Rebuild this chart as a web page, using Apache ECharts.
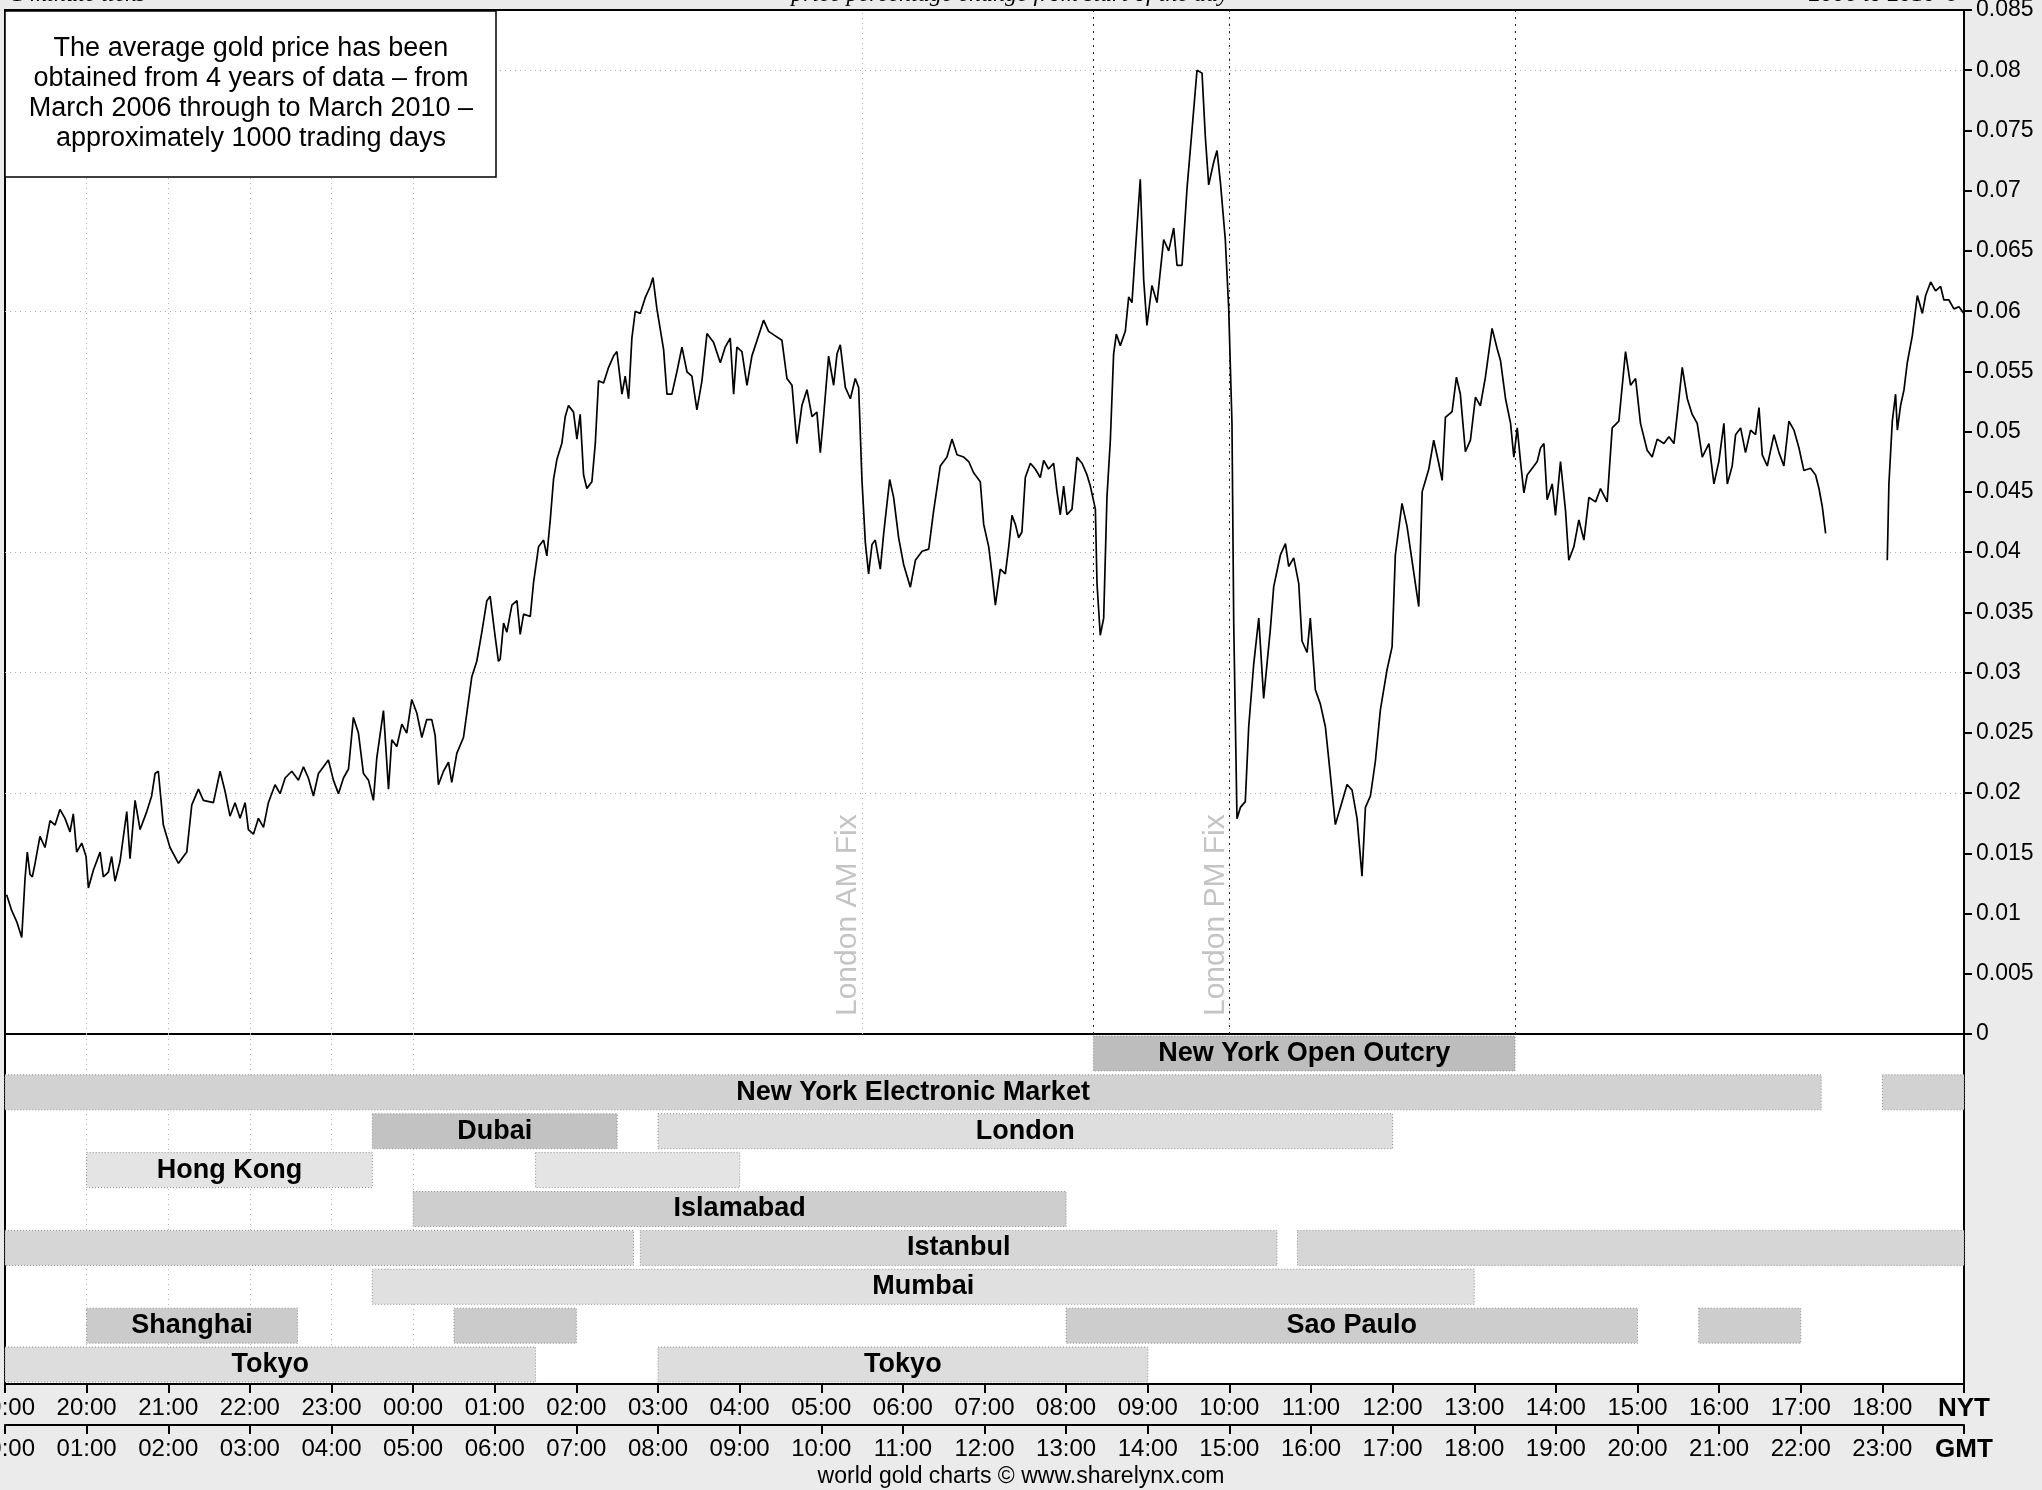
<!DOCTYPE html>
<html>
<head>
<meta charset="utf-8">
<title>Average gold price change through the trading day</title>
<script src="https://cdn.jsdelivr.net/npm/echarts@6/dist/echarts.min.js"></script>
<style>
  html, body { margin: 0; padding: 0; background: #ebebeb; }
  #chart { width: 2042px; height: 1490px; }
</style>
</head>
<body>
<div id="chart"></div>
<script>
  // average % price change from the start of the day, [minutes after 00:00 GMT, value]
  var priceNight = [[1.2,0.01156],[4.9,0.01026],[8.6,0.00933],[12.3,0.00802],[14.7,0.01287],[16.4,0.0151],[18.4,0.01324],[20.1,0.01305],[22.1,0.01417],[25.7,0.01641],[29.4,0.01548],[33.1,0.01771],[36.8,0.01734],[40.4,0.01864],[44.1,0.0179],[47.8,0.01678],[50.2,0.01827],[52.7,0.0151],[56.4,0.01585],[59.6,0.01473],[61.3,0.01212],[65.0,0.01361],[69.9,0.0151],[72.3,0.01305],[76.0,0.01343],[78.4,0.01473],[80.9,0.01268],[84.6,0.01436],[89.5,0.01846],[91.9,0.01455],[95.6,0.01939],[99.3,0.01697],[104.2,0.01846],[107.8,0.01976],[110.3,0.02162],[112.7,0.02181],[116.4,0.01734],[121.3,0.01548],[127.5,0.01417],[133.6,0.0151],[137.3,0.01902],[142.2,0.02032],[145.8,0.01939],[153.2,0.0192],[158.1,0.02181],[161.8,0.02013],[165.4,0.01808],[169.1,0.0192],[172.8,0.0179],[176.5,0.0192],[178.9,0.01697],[182.6,0.01659],[186.3,0.0179],[190.0,0.01715],[193.6,0.0192],[198.5,0.02069],[202.2,0.01995],[205.9,0.02125],[210.8,0.02181],[215.7,0.02107],[219.4,0.02218],[223.0,0.02125],[226.7,0.01976],[230.4,0.02162],[234.1,0.02218],[237.7,0.02274],[241.4,0.02107],[245.1,0.01995],[248.8,0.02125],[252.5,0.022],[256.1,0.02628],[259.8,0.02498],[263.5,0.02162],[267.2,0.02107],[270.8,0.01939],[273.3,0.02293],[278.2,0.02684],[281.9,0.02032],[284.3,0.02442],[288.0,0.02386],[291.7,0.02572],[295.3,0.02498],[299.0,0.02777],[302.7,0.02665],[306.4,0.02461],[310.0,0.0261],[313.7,0.0261],[316.2,0.02479],[318.6,0.02069],[322.3,0.02181],[326.0,0.02256],[328.4,0.02088],[332.1,0.0233],[337.0,0.02461],[339.5,0.02665],[343.1,0.02963],[346.8,0.03094],[350.5,0.03336],[354.2,0.03597],[356.6,0.03634],[360.3,0.03299],[362.7,0.03094]];
  var priceMorning = [[364.0,0.03112],[366.5,0.03411],[368.9,0.03336],[372.6,0.0356],[376.3,0.03597],[378.7,0.03317],[381.2,0.03485],[386.1,0.03466],[388.5,0.03746],[392.2,0.04044],[395.9,0.041],[398.3,0.03969],[400.8,0.04268],[403.2,0.04603],[405.7,0.0477],[409.3,0.04901],[411.8,0.05124],[414.2,0.05218],[417.9,0.05162],[420.4,0.04938],[422.8,0.05143],[425.3,0.0464],[427.7,0.04528],[431.4,0.04584],[433.9,0.04901],[436.3,0.05422],[440.0,0.05404],[443.7,0.05534],[447.3,0.05627],[449.8,0.05665],[453.5,0.05311],[455.9,0.0546],[458.4,0.05273],[460.8,0.05776],[463.3,0.06],[466.9,0.05981],[470.6,0.06112],[474.3,0.06205],[476.3,0.06279],[479.2,0.06019],[484.1,0.05683],[486.6,0.05311],[490.2,0.05311],[493.9,0.05497],[497.6,0.05702],[501.3,0.05497],[504.9,0.0546],[508.6,0.0518],[512.3,0.05422],[516.0,0.05814],[520.9,0.05739],[525.8,0.05572],[529.4,0.05702],[533.1,0.05776],[535.6,0.05311],[538.0,0.05702],[541.7,0.05665],[545.4,0.05385],[549.0,0.05627],[557.6,0.05925],[561.3,0.05832],[566.2,0.05795],[571.1,0.05758],[574.8,0.05441],[578.5,0.05385],[582.1,0.04901],[585.8,0.05218],[589.5,0.05348],[593.2,0.05124],[596.8,0.05162],[599.3,0.04826],[601.7,0.05124],[605.4,0.05627],[609.1,0.05385],[611.6,0.05646],[614.0,0.05721],[617.7,0.05367],[621.4,0.05273],[625.0,0.05441],[627.5,0.05367],[629.9,0.04603],[632.4,0.04081],[634.8,0.0382],[637.3,0.04063],[639.7,0.041],[643.4,0.03858],[645.9,0.04156],[650.3,0.04603],[653.2,0.04454],[656.9,0.04119],[660.6,0.03895],[665.5,0.03709],[669.2,0.03932],[674.1,0.04007],[679.0,0.04025],[682.6,0.04342],[687.5,0.04715],[692.4,0.04789],[696.1,0.04938],[699.8,0.04808],[704.7,0.04789],[708.4,0.04752],[712.0,0.04659],[716.9,0.04584],[719.4,0.0423],[723.1,0.04044],[725.5,0.0382],[728.0,0.0356],[731.6,0.03858],[735.3,0.0382],[737.8,0.04044],[740.2,0.04305],[742.7,0.0423],[745.1,0.04119]];
  var priceAfternoon = [[747.5,0.04167],[750.0,0.04619],[753.7,0.04738],[757.3,0.0469],[761.0,0.04619],[763.5,0.04762],[767.1,0.0469],[770.8,0.04738],[773.3,0.045],[775.7,0.0431],[778.2,0.04548],[780.6,0.0431],[784.3,0.04357],[788.0,0.04786],[791.7,0.04738],[795.3,0.04643],[797.8,0.04548],[801.5,0.04357],[802.7,0.03738],[805.1,0.0331],[807.6,0.03452],[810.0,0.04452],[812.5,0.04929],[814.9,0.05643],[816.9,0.0581],[819.8,0.05714],[823.5,0.05833],[826.0,0.06119],[828.4,0.06071],[830.9,0.065],[834.5,0.07095],[837.0,0.06262],[839.4,0.05881],[843.1,0.06214],[846.8,0.06071],[851.7,0.06595],[855.4,0.065],[859.1,0.0669],[861.5,0.06381],[865.2,0.06381],[868.9,0.07024],[872.5,0.075],[876.2,0.08],[879.9,0.07976],[882.3,0.07452],[884.8,0.07048],[888.5,0.07238],[890.9,0.07333],[893.4,0.07071],[897.0,0.06595],[899.5,0.06024],[901.9,0.05071],[903.2,0.03405],[905.6,0.01786],[908.1,0.01881],[911.7,0.01929],[914.2,0.02548],[917.9,0.03071],[921.6,0.03452],[925.2,0.02786],[930.1,0.03357],[932.6,0.03714],[937.5,0.03976],[941.2,0.04071],[943.6,0.03881],[947.3,0.03952],[951.0,0.03738],[953.4,0.03262],[957.1,0.03167],[959.5,0.03452],[963.2,0.02857],[966.9,0.02738],[970.6,0.02548],[974.3,0.02143],[977.9,0.01738],[981.6,0.01881],[986.5,0.02071],[990.2,0.02024],[993.9,0.01786],[997.5,0.0131],[1000.0,0.01881],[1003.7,0.01976],[1007.3,0.02262],[1011.0,0.0269],[1015.9,0.03024],[1019.6,0.03214],[1022.0,0.03976],[1026.9,0.04405],[1030.6,0.04214],[1035.5,0.03833],[1039.2,0.03548],[1041.7,0.045],[1046.6,0.0469],[1050.2,0.04929],[1053.9,0.04738],[1056.4,0.04595],[1058.8,0.05119],[1063.7,0.05167],[1066.9,0.05452],[1069.8,0.0531],[1073.5,0.04833],[1077.2,0.04929],[1080.9,0.05286],[1084.5,0.05214],[1088.2,0.05452],[1093.1,0.05857],[1096.8,0.0569]];
  var priceEvening = [[1099.3,0.0559],[1103.0,0.05273],[1106.7,0.05069],[1109.1,0.04789],[1111.6,0.05031],[1114.0,0.04752],[1116.5,0.04491],[1118.9,0.0464],[1122.6,0.04696],[1126.3,0.04752],[1128.7,0.04864],[1131.2,0.04901],[1133.6,0.04435],[1137.3,0.04566],[1139.7,0.04305],[1143.4,0.04752],[1147.1,0.04342],[1149.5,0.03932],[1153.2,0.04044],[1156.9,0.04268],[1160.6,0.041],[1164.3,0.04454],[1169.2,0.04417],[1172.8,0.04528],[1177.7,0.04417],[1181.4,0.05031],[1186.3,0.05087],[1191.2,0.05665],[1194.9,0.05385],[1198.6,0.05441],[1202.2,0.05069],[1207.1,0.04845],[1210.8,0.04789],[1214.5,0.04938],[1219.4,0.04901],[1223.1,0.04957],[1226.8,0.04901],[1229.2,0.05143],[1232.9,0.05534],[1236.6,0.05273],[1240.2,0.05143],[1243.9,0.05069],[1247.6,0.04789],[1252.5,0.04901],[1256.2,0.04566],[1259.8,0.04752],[1263.5,0.05069],[1266.0,0.04566],[1269.6,0.04715],[1272.1,0.04975],[1275.8,0.05031],[1279.4,0.04826],[1283.1,0.05013],[1286.8,0.04975],[1289.3,0.05199],[1291.7,0.04808],[1295.4,0.04715],[1300.3,0.04975],[1304.0,0.04826],[1307.6,0.04715],[1311.3,0.05087],[1315.0,0.05013],[1318.7,0.04864],[1322.3,0.04677],[1327.2,0.04696],[1330.9,0.0464],[1333.4,0.04528],[1335.8,0.04379],[1338.3,0.04156]];
  var priceLate = [[1383.6,0.03932],[1384.8,0.04566],[1387.3,0.05087],[1389.7,0.05311],[1391.0,0.05013],[1393.4,0.05218],[1395.9,0.05348],[1398.3,0.05572],[1402.0,0.05795],[1405.7,0.0613],[1409.4,0.05981],[1411.8,0.0613],[1415.5,0.06242],[1419.1,0.06168],[1422.8,0.06205],[1425.2,0.06093],[1428.9,0.06093],[1432.6,0.06019],[1436.3,0.06037],[1439.9,0.05981]];

  // tick labels, one per hour from 00:00 GMT
  var nytLabels = ['19:00','20:00','21:00','22:00','23:00','00:00','01:00','02:00','03:00','04:00','05:00','06:00','07:00','08:00','09:00','10:00','11:00','12:00','13:00','14:00','15:00','16:00','17:00','18:00','NYT'];
  var gmtLabels = ['00:00','01:00','02:00','03:00','04:00','05:00','06:00','07:00','08:00','09:00','10:00','11:00','12:00','13:00','14:00','15:00','16:00','17:00','18:00','19:00','20:00','21:00','22:00','23:00','GMT'];

  // dotted reference levels and hours
  var gridLevels = [0.02, 0.025, 0.04, 0.055, 0.06, 0.08];
  var gridHours = [60, 120, 180, 240, 300];
  var fixEvents = [['London AM Fix', 630], ['London PM Fix', 900]];
  var outcryEvents = [800, 1110];

  // market sessions: [row, market, start min GMT, end min GMT, labelled]
  var sessionRows = ['New York Open Outcry', 'New York Electronic Market', 'Dubai / London', 'Hong Kong', 'Islamabad', 'Istanbul', 'Mumbai', 'Shanghai / Sao Paulo', 'Tokyo'];
  var sessionSpans = [
    [0, 'New York Open Outcry', 800, 1110, true],
    [1, 'New York Electronic Market', 0, 1335, true],
    [1, 'New York Electronic Market', 1380, 1440, false],
    [2, 'Dubai', 270, 450, true],
    [2, 'London', 480, 1020, true],
    [3, 'Hong Kong', 60, 270, true],
    [3, 'Hong Kong', 390, 540, false],
    [4, 'Islamabad', 300, 780, true],
    [5, 'Istanbul', 0, 462, false],
    [5, 'Istanbul', 467, 935, true],
    [5, 'Istanbul', 950, 1440, false],
    [6, 'Mumbai', 270, 1080, true],
    [7, 'Shanghai', 60, 215, true],
    [7, 'Shanghai', 330, 420, false],
    [7, 'Sao Paulo', 780, 1200, true],
    [7, 'Sao Paulo', 1245, 1320, false],
    [8, 'Tokyo', 0, 390, true],
    [8, 'Tokyo', 480, 840, true]
  ];

  var shade = {
    'New York Open Outcry': '#bdbdbd',
    'New York Electronic Market': '#d2d2d2',
    'Dubai': '#c2c2c2',
    'London': '#dedede',
    'Hong Kong': '#e4e4e4',
    'Islamabad': '#cecece',
    'Istanbul': '#d6d6d6',
    'Mumbai': '#e0e0e0',
    'Shanghai': '#cbcbcb',
    'Sao Paulo': '#cdcdcd',
    'Tokyo': '#dddddd'
  };

  var font = '"Liberation Sans", Arial, sans-serif';
  var priceData = [].concat(priceNight, priceMorning, priceAfternoon, priceEvening, [[1360, null]], priceLate);

  var gridMarks = [];
  gridLevels.forEach(function (v) { gridMarks.push({ yAxis: v }); });
  gridHours.forEach(function (h) { gridMarks.push({ xAxis: h }); });
  fixEvents.forEach(function (f) { gridMarks.push({ xAxis: f[1], lineStyle: { color: '#b4b4b4' } }); });
  outcryEvents.forEach(function (t) { gridMarks.push({ xAxis: t, lineStyle: { color: '#222', type: [2, 5] } }); });
  gridMarks.push({ xAxis: 900, lineStyle: { color: '#222', type: [2, 5] } });

  function hourLabel(list) {
    return function (v) {
      var i = Math.round(v / 60);
      return i === 24 ? '{b|' + list[i] + '}' : list[i];
    };
  }

  var xBase = { type: 'value', min: 0, max: 1440, interval: 60, splitLine: { show: false } };

  var option = {
    animation: false,
    backgroundColor: '#ebebeb',
    grid: [
      { left: 5, right: 78, top: 10, height: 1024, show: true, backgroundColor: '#fff', borderColor: '#000', borderWidth: 2, containLabel: false, outerBoundsMode: 'none' },
      { left: 5, right: 78, top: 1034, height: 350, show: true, backgroundColor: '#fff', borderColor: '#000', borderWidth: 2, containLabel: false, outerBoundsMode: 'none' }
    ],
    xAxis: [
      Object.assign({}, xBase, { gridIndex: 0, show: false, axisLine: { onZero: false } }),
      Object.assign({}, xBase, {
        gridIndex: 1, position: 'bottom',
        axisLine: { show: true, onZero: false, lineStyle: { color: '#000', width: 2 } },
        axisTick: { show: true, length: 9, lineStyle: { color: '#000', width: 2 } },
        axisLabel: { color: '#000', fontFamily: font, fontSize: 24, margin: 12, formatter: hourLabel(nytLabels),
          rich: { b: { fontFamily: font, fontSize: 26, fontWeight: 'bold', color: '#000' } } }
      }),
      Object.assign({}, xBase, {
        gridIndex: 1, position: 'bottom', offset: 41,
        axisLine: { show: true, onZero: false, lineStyle: { color: '#000', width: 2 } },
        axisTick: { show: true, length: 9, lineStyle: { color: '#000', width: 2 } },
        axisLabel: { color: '#000', fontFamily: font, fontSize: 24, margin: 12, formatter: hourLabel(gmtLabels),
          rich: { b: { fontFamily: font, fontSize: 26, fontWeight: 'bold', color: '#000' } } }
      })
    ],
    yAxis: [
      {
        gridIndex: 0, type: 'value', position: 'right', min: 0, max: 0.085, interval: 0.005,
        axisLine: { show: true, onZero: false, lineStyle: { color: '#000', width: 2 } },
        axisTick: { show: true, length: 8, lineStyle: { color: '#000', width: 2 } },
        axisLabel: { color: '#000', fontFamily: font, fontSize: 23, margin: 12,
          formatter: function (v) { return String(+v.toFixed(3)); } },
        splitLine: { show: false }
      },
      { gridIndex: 1, type: 'category', inverse: true, data: sessionRows, show: false, axisLine: { onZero: false } }
    ],
    series: [
      {
        type: 'custom', xAxisIndex: 1, yAxisIndex: 1, z: 2, silent: true,
        data: sessionSpans.map(function (s) { return [s[2], s[0], s[3]]; }),
        encode: { x: [0, 2], y: 1 },
        renderItem: function (params, api) {
          var s = sessionSpans[params.dataIndex];
          var a = api.coord([s[2], s[0]]);
          var b = api.coord([s[3], s[0]]);
          var h = api.size([0, 1])[1] * 0.9;
          var el = {
            type: 'rect',
            shape: { x: a[0], y: a[1] - h / 2, width: b[0] - a[0], height: h },
            style: { fill: shade[s[1]], stroke: '#8c8c8c', lineWidth: 1, lineDash: [1, 2] }
          };
          if (s[4]) {
            el.textContent = { style: { text: s[1], font: 'bold 27px ' + font, fill: '#000' } };
            el.textConfig = { position: 'inside' };
          }
          return el;
        },
        markLine: {
          silent: true, symbol: 'none', z: 1, label: { show: false },
          lineStyle: { color: '#b4b4b4', type: [1, 4], width: 1 },
          data: gridHours.map(function (h) { return { xAxis: h }; })
        }
      },
      {
        type: 'line', xAxisIndex: 0, yAxisIndex: 0, z: 3, silent: true,
        data: priceData, showSymbol: false, connectNulls: false,
        lineStyle: { color: '#000', width: 1.7 },
        markLine: {
          silent: true, symbol: 'none', z: 1, label: { show: false },
          lineStyle: { color: '#b0b0b0', type: [1, 4], width: 1 },
          data: gridMarks
        }
      }
    ],
    graphic: [
      { type: 'rect', z: 10, shape: { x: 5, y: 11, width: 491, height: 166 }, style: { fill: '#fff', stroke: '#000', lineWidth: 1.5 } },
      { type: 'text', z: 11, x: 251, y: 94, style: {
          text: 'The average gold price has been\nobtained from 4 years of data \u2013 from\nMarch 2006 through to March 2010 \u2013\napproximately 1000 trading days',
          font: '27px ' + font, fill: '#000', align: 'center', verticalAlign: 'middle', lineHeight: 30 } },
      { type: 'text', z: 11, x: 12, y: 7, style: { text: '1 minute ticks', font: 'italic 24px "Liberation Serif", serif', fill: '#000', align: 'left', verticalAlign: 'bottom' } },
      { type: 'text', z: 11, x: 1010, y: 7, style: { text: 'price percentage change from start of the day', font: 'italic 24px "Liberation Serif", serif', fill: '#000', align: 'center', verticalAlign: 'bottom' } },
      { type: 'text', z: 11, x: 1960, y: 7, style: { text: '2006 to 2010 \u00a9', font: 'italic 24px "Liberation Serif", serif', fill: '#000', align: 'right', verticalAlign: 'bottom' } },
      { type: 'text', z: 11, x: 1021, y: 1477, style: { text: 'world gold charts \u00a9 www.sharelynx.com', font: '23px ' + font, fill: '#000', align: 'center', verticalAlign: 'middle' } }
    ]
  };

  var chart = echarts.init(document.getElementById('chart'), null, { renderer: 'canvas' });
  chart.setOption(option);

  // rotated fix labels placed just left of their lines
  var zeroY = chart.convertToPixel({ yAxisIndex: 0 }, 0);
  var fixGraphics = fixEvents.map(function (f) {
    var px = chart.convertToPixel({ xAxisIndex: 0 }, f[1]);
    return { type: 'text', z: 11, x: px - 14, y: zeroY - 18, rotation: Math.PI / 2,
      style: { text: f[0], font: '30px ' + font, fill: '#c4c4c4', align: 'left', verticalAlign: 'middle' } };
  });
  chart.setOption({ graphic: option.graphic.concat(fixGraphics) });
</script>
</body>
</html>
